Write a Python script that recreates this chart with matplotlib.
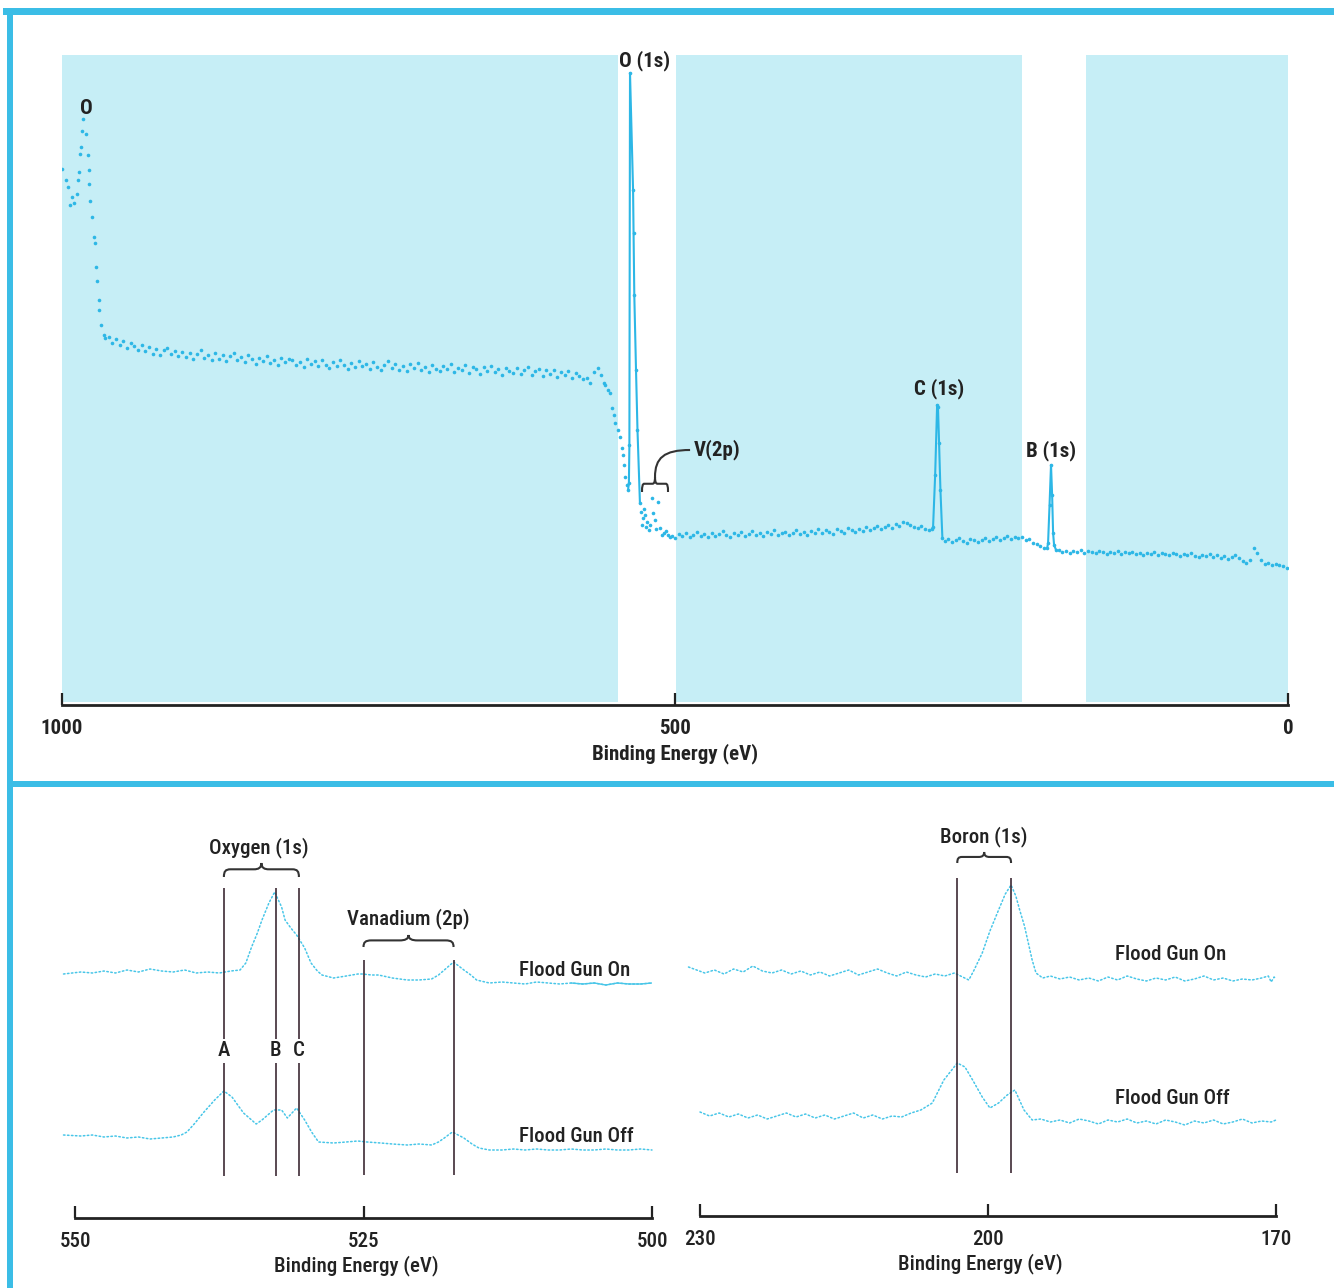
import numpy as np
import matplotlib
matplotlib.use('Agg')
import matplotlib.pyplot as plt
from matplotlib import font_manager
from matplotlib.path import Path
from matplotlib.patches import PathPatch, Rectangle

# pick a narrow font if there is one
fonts = font_manager.fontManager.ttflist
font_names = {f.name for f in fonts}
narrow = [f.name for f in fonts if f.stretch in ('condensed', 'semi-condensed')]
if 'Liberation Sans Narrow' in font_names:
    plt.rcParams['font.family'] = ['Liberation Sans Narrow', 'DejaVu Sans']
elif 'Roboto Condensed' in font_names:
    plt.rcParams['font.family'] = ['Roboto Condensed', 'DejaVu Sans']
elif narrow:
    plt.rcParams['font.family'] = [narrow[0], 'DejaVu Sans']
    plt.rcParams['font.stretch'] = 'condensed'
else:
    plt.rcParams['font.family'] = ['Roboto', 'DejaVu Sans']

# ---------------- survey spectrum (binding energy eV, counts a.u.) ----------------
o_ev = [1000, 996.7, 995.1, 993.5, 991.8, 990.2, 987.8, 987.0, 986.1, 985.3, 984.5, 983.7,
        982.9, 980.4, 978.8, 978.0, 977.6, 977.2, 975.5, 973.9, 973.1, 972.3, 971.5, 969.8,
        969.5, 968.2, 965.7, 964.9]
o_int = [536, 525, 518, 500, 508, 502, 511, 525, 533, 551, 558, 574,
         586, 571, 550, 535, 521, 504, 488, 468, 462, 438, 424, 405,
         395, 380, 370, 367]

flat1_ev = list(range(962, 560, -3))
flat1_int = [368, 362, 366, 360, 364, 357, 362, 359, 355, 360,
             354, 358, 351, 356, 350, 355, 357, 351, 354, 349,
             353, 348, 352, 346, 351, 355, 347, 350, 345, 352,
             346, 350, 344, 349, 352, 345, 348, 343, 350, 346,
             341, 347, 344, 349, 342, 345, 340, 347, 343, 346,
             345, 340, 343, 338, 346, 341, 344, 339, 345, 340,
             337, 343, 339, 345, 340, 336, 342, 338, 344, 339,
             341, 336, 343, 338, 335, 340, 344, 337, 341, 335,
             339, 334, 341, 337, 342, 335, 338, 333, 340, 336,
             334, 339, 336, 341, 333, 337, 335, 340, 332, 338,
             336, 331, 338, 334, 339, 333, 336, 330, 337, 334,
             332, 337, 331, 335, 338, 330, 334, 336, 329, 335,
             331, 335, 328, 333, 330, 334, 327, 332, 329, 326,
             327, 322, 333, 337]

drop_ev = [560, 558, 557, 554.6, 553, 551.4, 549.7, 548.9, 546.5, 544.8, 543.2, 542.4, 542.0, 540.8, 539.1]
drop_int = [330, 322, 320, 315, 312, 297, 290, 282, 275, 268, 257, 250, 240, 228, 220]

o1s_ev = [538.3, 537.6, 537.2, 536.7, 534.2, 533.8, 533.2, 531.8, 530.6, 528.6]
o1s_int = [215, 222, 260, 632, 515, 472, 410, 335, 275, 202]

v2p_ev = [527.7, 526.9, 526.1, 525.3, 524.5, 523.6, 522.8, 521.2, 520.4, 518.7, 517.9,
          516.3, 515.5, 513.8, 512.2, 510.5, 508.9, 507.2, 505.7, 504.0, 502.4]
v2p_int = [193, 180, 187, 196, 190, 178, 183, 175, 180, 207, 192,
           185, 176, 203, 177, 170, 172, 174, 170, 168, 169]

flat2_ev = list(range(500, 292, -3))
flat2_int = [167, 171, 169, 172, 168, 170, 173, 169, 171, 168,
             172, 169, 171, 174, 170, 168, 172, 170, 173, 169,
             171, 174, 170, 172, 169, 173, 171, 175, 170, 172,
             173, 170, 172, 175, 171, 173, 170, 174, 172, 176,
             172, 175, 173, 171, 176, 174, 172, 177, 175, 173,
             176, 174, 178, 175, 177, 179, 176, 178, 180, 177,
             181, 179, 183, 182, 180, 178, 177, 179, 176, 175]

c1s_ev = [290.5, 289.5, 287.8, 286.2, 285.5, 284.6, 283.5, 281.9]
c1s_int = [176, 178, 230, 300, 298, 262, 215, 167]

flat3_ev = list(range(280, 198, -3))
flat3_int = [164, 166, 163, 165, 167, 164, 162, 166, 165, 163,
             165, 167, 164, 166, 168, 165, 167, 169, 166, 168,
             167, 168, 165, 166, 162, 161, 159, 157]

b1s_ev = [196.4, 195.7, 194.5, 193.3, 192.4, 191.6, 190.8, 189.2]
b1s_int = [157, 162, 200, 240, 210, 172, 160, 155]

flat4_ev = list(range(187, 0, -3))
flat4_int = [155, 153, 154, 152, 154, 153, 155, 152, 154, 153,
             152, 154, 153, 151, 153, 152, 154, 151, 153, 152,
             153, 151, 152, 150, 152, 151, 153, 150, 152, 151,
             150, 152, 151, 149, 151, 150, 152, 149, 148, 150,
             149, 151, 148, 150, 147, 149, 146, 148, 150, 147,
             144, 142, 145, 157, 152, 145, 141, 142, 140, 141,
             140, 139, 137]

# shaded survey windows
bands = [(1000, 546.5), (499.2, 217), (164.8, 0)]

# ---------------- high resolution: O(1s) / V(2p) ----------------
on_o_ev = [551.0, 549.5, 548.5, 547.5, 546.5, 545.5, 544.5, 543.5, 542.5, 541.5, 540.5, 539.5,
           538.5, 537.5, 536.5, 535.7, 535.2, 534.7, 534.2, 533.8, 533.2, 532.7, 532.1, 531.8,
           531.3, 530.8, 530.1, 529.55, 529.0, 528.6, 527.6, 526.5, 525.5, 525.1, 524.3, 523.7,
           522.5, 521.2, 520.2, 519.1, 518.5, 518.0, 517.2, 516.3, 515.7, 515.2, 514.1, 513,
           512, 511, 510, 509, 508, 507, 506, 505, 504, 503, 502, 501, 500]
on_o_int = [244, 246, 245, 247, 245, 248, 246, 249, 247, 246, 248, 245,
            246, 245, 247, 248, 255, 271, 285, 298, 315, 326, 311, 298,
            290, 283, 270, 255, 247, 243, 240, 242, 244, 244, 243, 243,
            240, 238, 238, 239, 243, 248, 256, 248, 243, 238, 235, 236,
            235, 234, 236, 235, 234, 235, 234, 235, 233, 235, 234, 234, 235]

off_o_ev = [551.0, 549.5, 548.5, 547.5, 546.5, 545.5, 544.5, 543.5, 542.5, 541.5, 540.8, 540.3,
            539.6, 538.9, 537.9, 537.1, 536.4, 535.4, 534.3, 533.8, 532.8, 532.1, 531.6, 530.8,
            530.1, 529.5, 528.9, 527.6, 526.5, 525.5, 524.7, 523.5, 522.5, 521.2, 520.2, 519.1,
            518.5, 518.0, 517.3, 516.3, 515.6, 515.0, 514.1, 513, 512, 511, 510, 509,
            508, 507, 506, 505, 504, 503, 502, 501, 500]
off_o_int = [83, 82, 83, 81, 82, 80, 81, 79, 80, 81, 83, 86,
             95, 105, 118, 127, 121, 105, 94, 98, 108, 108, 100, 110,
             98, 86, 76, 75, 76, 77, 76, 75, 74, 73, 74, 73,
             76, 80, 86, 80, 74, 70, 68, 68, 69, 68, 69, 68,
             68, 69, 68, 68, 69, 68, 68, 69, 68]

o_lines = [537.1, 532.6, 530.6]
o_letters = ['A', 'B', 'C']
v_lines = [525.0, 517.2]

# ---------------- high resolution: B(1s) ----------------
on_b_ev = [231.2, 229.5, 228.5, 227.5, 226.5, 225.5, 224.5, 223.5, 222.5, 221.5, 220.5, 219.5,
           218.5, 217.5, 216.5, 215.5, 214.5, 213.5, 212.5, 211.5, 210.5, 209.5, 208.5, 207.5,
           206.5, 205.5, 204.5, 203.5, 202.0, 201.5, 200.6, 199.8, 198.9, 198.2, 197.6, 197.1,
           196.7, 196.2, 195.8, 195.4, 195.0, 194.3, 193.5, 192.5, 191.5, 190.5, 189.5, 188.5,
           187.5, 186.5, 185.5, 184.5, 183.5, 182.5, 181.5, 180.5, 179.5, 178.5, 177.5, 176.5,
           175.5, 174.5, 173.5, 172.5, 171.5, 170.8, 170.5, 170.2, 170.0]
on_b_int = [249, 243, 246, 242, 247, 244, 250, 245, 243, 246, 242, 245,
            241, 244, 240, 243, 246, 241, 244, 247, 243, 240, 244, 241,
            239, 242, 240, 243, 236, 245, 263, 285, 306, 322, 331, 320,
            306, 290, 273, 256, 243, 238, 240, 237, 239, 236, 238, 235,
            239, 236, 240, 237, 235, 238, 236, 239, 235, 237, 240, 236,
            238, 235, 237, 236, 238, 240, 234, 239, 237]

off_b_ev = [230.0, 229.0, 228.0, 227.0, 226.0, 225.0, 224.0, 223.0, 222.0, 221.0, 220.0, 219.0,
            218.0, 217.0, 216.0, 215.0, 214.0, 213.0, 212.0, 211.0, 210.0, 209.0, 208.0, 207.0,
            205.8, 204.6, 203.2, 202.4, 201.6, 200.6, 199.8, 198.9, 198.0, 197.2, 196.25, 195.4,
            194.5, 193.5, 192.5, 191.5, 190.5, 189.5, 188.5, 187.5, 186.5, 185.5, 184.5, 183.5,
            182.5, 181.5, 180.5, 179.5, 178.5, 177.5, 176.5, 175.5, 174.5, 173.5, 172.5, 171.5,
            170.5, 170.0]
off_b_int = [104, 100, 103, 99, 102, 98, 101, 97, 100, 103, 99, 102,
             98, 101, 97, 100, 103, 98, 101, 97, 100, 99, 103, 106,
             113, 136, 153, 149, 136, 119, 108, 113, 121, 126, 106, 96,
             97, 94, 96, 93, 97, 95, 92, 96, 94, 97, 93, 95,
             92, 96, 94, 91, 95, 93, 96, 92, 94, 97, 93, 95,
             94, 96]

b_lines = [203.2, 197.6]

# ---------------- styles ----------------
band_col = '#c6eef6'
dot_col = '#2db7e6'
hr_col = '#48c6e8'
ink = '#222222'
vline_col = '#3d2a35'
frame_col = '#3bbde6'
fs_top = 15
fs_bot = 15


def brace(ax, x1, x2, y, h, lw=1.5):
    # curly brace, ends down, tip up
    u = [0, 0, 0.02, 0.09, 0.40, 0.46, 0.5, 0.5, 0.5, 0.54, 0.60, 0.91, 0.98, 1, 1]
    v = [0, 0.40, 0.55, 0.55, 0.55, 0.55, 0.65, 1.0, 0.65, 0.55, 0.55, 0.55, 0.55, 0.40, 0]
    codes = [Path.MOVETO] + [Path.CURVE4] * 3 + [Path.LINETO] + [Path.CURVE4] * 6 + \
            [Path.LINETO] + [Path.CURVE4] * 3
    verts = [(x1 + a * (x2 - x1), y + b * h) for a, b in zip(u, v)]
    ax.add_patch(PathPatch(Path(verts, codes), fc='none', ec='#333333', lw=lw, clip_on=False))


fig = plt.figure(figsize=(13.34, 12.88), dpi=100)

# ---------------- top: survey ----------------
ax = fig.add_axes([62 / 1334, 1 - 705 / 1288, 1226 / 1334, 650 / 1288])
for lo, hi in bands:
    ax.axvspan(lo, hi, ymin=0.004, ymax=1, color=band_col, lw=0, zorder=0)

all_ev = o_ev + flat1_ev + drop_ev + o1s_ev + v2p_ev + flat2_ev + c1s_ev + flat3_ev + b1s_ev + flat4_ev
all_int = o_int + flat1_int + drop_int + o1s_int + v2p_int + flat2_int + c1s_int + flat3_int + b1s_int + flat4_int
ax.plot(all_ev, all_int, 'o', ms=2.6, color=dot_col, mec='none', zorder=3)
for pev, pint in [(o1s_ev, o1s_int), (c1s_ev, c1s_int), (b1s_ev, b1s_int)]:
    ax.plot(pev, pint, '-', lw=1.5, color=dot_col, zorder=3)

ax.set_xlim(1000, 0)
ax.set_ylim(0, 650)
for s in ['top', 'left', 'right']:
    ax.spines[s].set_visible(False)
ax.spines['bottom'].set_linewidth(2)
ax.spines['bottom'].set_color(ink)
ax.set_yticks([])
ax.set_xticks([1000, 500, 0])
ax.tick_params(axis='x', direction='in', length=9, width=1.6, color=ink, pad=10,
               labelsize=fs_top, labelcolor=ink)
for t in ax.get_xticklabels():
    t.set_fontweight('bold')
ax.set_xlabel('Binding Energy (eV)', fontsize=fs_top, fontweight='bold', color=ink, labelpad=4)

lab = dict(textcoords='offset pixels', fontsize=fs_top, fontweight='bold', color=ink, ha='center', va='bottom')
ax.annotate('O', xy=(982.9, 586), xytext=(3, 1), **lab)
ax.annotate('O (1s)', xy=(536.7, 632), xytext=(15, 2), **lab)
ax.annotate('C (1s)', xy=(285.8, 300), xytext=(2, 6), **lab)
ax.annotate('B (1s)', xy=(193.3, 240), xytext=(0, 4), **lab)

# V(2p) brace with a leader up to the label
brace(ax, 526.9, 505.7, 213, 15, lw=1.5)
lead = Path([(516.3, 228), (516.3, 247), (509, 255), (487.7, 255)],
            [Path.MOVETO, Path.CURVE4, Path.CURVE4, Path.CURVE4])
ax.add_patch(PathPatch(lead, fc='none', ec='#333333', lw=1.5))
ax.annotate('V(2p)', xy=(487.7, 255), xytext=(4, 0), textcoords='offset pixels', fontsize=fs_top,
            fontweight='bold', color=ink, ha='left', va='center')

# ---------------- bottom panels ----------------
def hr_axes(rect, xlim, bounds, ticks):
    a = fig.add_axes(rect)
    a.set_xlim(*xlim)
    a.set_ylim(0, 400)
    for s in ['top', 'left', 'right']:
        a.spines[s].set_visible(False)
    a.spines['bottom'].set_bounds(*bounds)
    a.spines['bottom'].set_linewidth(2)
    a.spines['bottom'].set_color(ink)
    a.set_yticks([])
    a.set_xticks(ticks)
    a.tick_params(axis='x', direction='in', length=9, width=1.6, color=ink, pad=10,
                  labelsize=fs_bot, labelcolor=ink)
    for t in a.get_xticklabels():
        t.set_fontweight('medium')
    a.set_xlabel('Binding Energy (eV)', fontsize=fs_bot, fontweight='medium', color=ink, labelpad=3)
    a.patch.set_alpha(0)
    return a


dotted = dict(ls=(0, (1, 1.6)), lw=1.1, color=hr_col, dash_capstyle='round', clip_on=False)
text_kw = dict(fontsize=fs_bot, fontweight='medium', color=ink, ha='center', va='center')

ax1 = hr_axes([61.2 / 1334, 70 / 1288, 590.8 / 1334, 400 / 1288], (551.2, 500), (500, 550), [550, 525, 500])
ax1.plot(on_o_ev, on_o_int, **dotted)
ax1.plot(off_o_ev, off_o_int, **dotted)
ax1.plot([e for e in on_o_ev if e <= 507], [i for e, i in zip(on_o_ev, on_o_int) if e <= 507],
         '-', lw=1.0, color=hr_col)
ax1.vlines(o_lines, 42, 330, color=vline_col, lw=1.2)
ax1.vlines(v_lines, 43, 258, color=vline_col, lw=1.2)
for x, s in zip(o_lines, o_letters):
    ax1.text(x, 167, s, bbox=dict(fc='white', ec='none', pad=1.5), zorder=5, **text_kw)
brace(ax1, o_lines[0], o_lines[2], 341, 14)
brace(ax1, v_lines[0], v_lines[1], 271, 12)
ax1.annotate('Oxygen (1s)', xy=(np.mean([o_lines[0], o_lines[2]]), 355), xytext=(-3, 5),
             textcoords='offset pixels', fontsize=fs_bot, fontweight='medium', color=ink,
             ha='center', va='bottom')
ax1.annotate('Vanadium (2p)', xy=(np.mean(v_lines), 283), xytext=(0, 6),
             textcoords='offset pixels', fontsize=fs_bot, fontweight='medium', color=ink,
             ha='center', va='bottom')
ax1.text(506.7, 248, 'Flood Gun On', **text_kw)
ax1.text(506.6, 82, 'Flood Gun Off', **text_kw)

ax2 = hr_axes([685.6 / 1334, 72 / 1288, 590.4 / 1334, 400 / 1288], (231.5, 170), (170, 230), [230, 200, 170])
ax2.plot(on_b_ev, on_b_int, **dotted)
ax2.plot(off_b_ev, off_b_int, **dotted)
ax2.vlines(b_lines, 43, 338, color=vline_col, lw=1.2)
brace(ax2, b_lines[0], b_lines[1], 353, 11)
ax2.annotate('Boron (1s)', xy=(np.mean(b_lines), 364), xytext=(0, 5),
             textcoords='offset pixels', fontsize=fs_bot, fontweight='medium', color=ink,
             ha='center', va='bottom')
ax2.text(181.0, 261, 'Flood Gun On', **text_kw)
ax2.text(180.8, 117, 'Flood Gun Off', **text_kw)

# ---------------- cyan frame ----------------
W, H = 1334, 1288
for x0, y0, w, h in [(3, 8, W - 3, 7), (7, 8, 6, H - 8), (7, 781, W - 7, 6)]:
    fig.add_artist(Rectangle((x0 / W, 1 - (y0 + h) / H), w / W, h / H, transform=fig.transFigure,
                             fc=frame_col, ec='none'))

fig.savefig('out.png', dpi=100)
